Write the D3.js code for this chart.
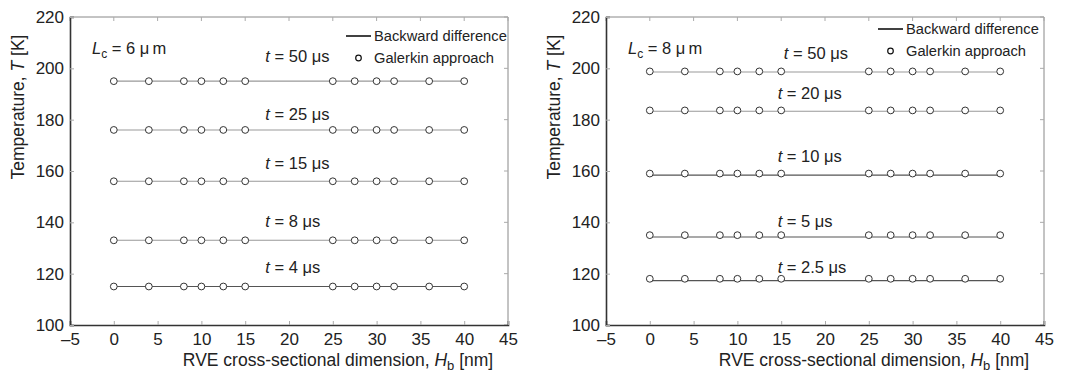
<!DOCTYPE html>
<html><head><meta charset="utf-8">
<script src="https://cdn.jsdelivr.net/npm/d3@7"></script>
<style>
body{margin:0;background:#fff;}
svg text{font-family:"Liberation Sans",Arial,Helvetica,sans-serif;fill:#222;}
</style></head>
<body><svg id="c" width="1075" height="373"></svg>
<script>
// ---- data ----
const hb = [0, 4, 8, 10, 12.5, 15, 25, 27.5, 30, 32, 36, 40];
const xTicks = [-5, 0, 5, 10, 15, 20, 25, 30, 35, 40, 45];
const yTicks = [100, 120, 140, 160, 180, 200, 220];

// Left panel: Lc = 6 um
const timesL = ["50", "25", "15", "8", "4"];
const galerkinL = [
  [195, 195, 195, 195, 195, 195, 195, 195, 195, 195, 195, 195],
  [176, 176, 176, 176, 176, 176, 176, 176, 176, 176, 176, 176],
  [156, 156, 156, 156, 156, 156, 156, 156, 156, 156, 156, 156],
  [133, 133, 133, 133, 133, 133, 133, 133, 133, 133, 133, 133],
  [115, 115, 115, 115, 115, 115, 115, 115, 115, 115, 115, 115]
];
const backwardL = [
  [195, 195, 195, 195, 195, 195, 195, 195, 195, 195, 195, 195],
  [176, 176, 176, 176, 176, 176, 176, 176, 176, 176, 176, 176],
  [156, 156, 156, 156, 156, 156, 156, 156, 156, 156, 156, 156],
  [133, 133, 133, 133, 133, 133, 133, 133, 133, 133, 133, 133],
  [115, 115, 115, 115, 115, 115, 115, 115, 115, 115, 115, 115]
];
const labelPosL = [[17.3, 202.5], [17.3, 180.0], [17.3, 160.8], [17.3, 138.2], [17.3, 120.3]];

// Right panel: Lc = 8 um
const timesR = ["50", "20", "10", "5", "2.5"];
const galerkinR = [
  [198.8, 198.8, 198.8, 198.8, 198.8, 198.8, 198.8, 198.8, 198.8, 198.8, 198.8, 198.8],
  [183.6, 183.6, 183.6, 183.6, 183.6, 183.6, 183.6, 183.6, 183.6, 183.6, 183.6, 183.6],
  [159.0, 159.0, 159.0, 159.0, 159.0, 159.0, 159.0, 159.0, 159.0, 159.0, 159.0, 159.0],
  [135.0, 135.0, 135.0, 135.0, 135.0, 135.0, 135.0, 135.0, 135.0, 135.0, 135.0, 135.0],
  [118.0, 118.0, 118.0, 118.0, 118.0, 118.0, 118.0, 118.0, 118.0, 118.0, 118.0, 118.0]
];
const backwardR = [
  [198.6, 198.6, 198.6, 198.6, 198.6, 198.6, 198.6, 198.6, 198.6, 198.6, 198.6, 198.6],
  [183.3, 183.3, 183.3, 183.3, 183.3, 183.3, 183.3, 183.3, 183.3, 183.3, 183.3, 183.3],
  [158.4, 158.4, 158.4, 158.4, 158.4, 158.4, 158.4, 158.4, 158.4, 158.4, 158.4, 158.4],
  [134.3, 134.3, 134.3, 134.3, 134.3, 134.3, 134.3, 134.3, 134.3, 134.3, 134.3, 134.3],
  [117.3, 117.3, 117.3, 117.3, 117.3, 117.3, 117.3, 117.3, 117.3, 117.3, 117.3, 117.3]
];
const labelPosR = [[15.3, 203.6], [14.6, 188.0], [14.6, 163.5], [14.6, 138.2], [14.6, 120.3]];

const panels = [
  {left: 70, lc: "6", times: timesL, gal: galerkinL, bwd: backwardL, lab: labelPosL,
   lineCol: ["#999", "#999", "#999", "#999", "#555"], legX: 346, legY: 36},
  {left: 606, lc: "8", times: timesR, gal: galerkinR, bwd: backwardR, lab: labelPosR,
   lineCol: ["#999", "#999", "#555", "#555", "#555"], legX: 878, legY: 29}
];

const svg = d3.select("#c");
const W = 438, yTop = 17, yBot = 325;

panels.forEach(p => {
  const x = d3.scaleLinear().domain([-5, 45]).range([p.left, p.left + W]);
  const y = d3.scaleLinear().domain([100, 220]).range([yBot, yTop]);
  const g = svg.append("g");

  // top / right frame (light)
  g.append("line").attr("x1", x(-5)).attr("x2", x(45)).attr("y1", yTop).attr("y2", yTop)
    .attr("stroke", "#888").attr("stroke-width", 1);
  g.append("line").attr("x1", x(45)).attr("x2", x(45)).attr("y1", yTop).attr("y2", yBot)
    .attr("stroke", "#888").attr("stroke-width", 1);
  // ticks on top & right
  g.selectAll(".tt").data(xTicks).enter().append("line")
    .attr("x1", d => x(d)).attr("x2", d => x(d)).attr("y1", yTop).attr("y2", yTop + 4)
    .attr("stroke", "#aaa");
  g.selectAll(".rt").data(yTicks).enter().append("line")
    .attr("x1", x(45)).attr("x2", x(45) - 4).attr("y1", d => y(d)).attr("y2", d => y(d))
    .attr("stroke", "#aaa");

  const xa = g.append("g").attr("transform", `translate(0,${yBot})`)
    .call(d3.axisBottom(x).tickValues(xTicks).tickSize(-4).tickPadding(8).tickFormat(d => d < 0 ? "\u2013" + (-d) : d));
  const ya = g.append("g").attr("transform", `translate(${p.left},0)`)
    .call(d3.axisLeft(y).tickValues(yTicks).tickSize(-4).tickPadding(6));
  [xa, ya].forEach(a => {
    a.select(".domain").attr("stroke", "#333").attr("stroke-width", 1.6);
    a.selectAll(".tick line").attr("stroke", "#aaa");
    a.selectAll(".tick text").attr("font-size", 17).attr("fill", "#222")
      .attr("font-family", "Liberation Sans, Arial, sans-serif");
  });

  // lines (backward difference)
  const line = d3.line().x((d, i) => x(hb[i])).y(d => y(d));
  p.bwd.forEach((s, k) => {
    g.append("path").attr("d", line(s)).attr("fill", "none")
      .attr("stroke", p.lineCol[k]).attr("stroke-width", 1.1);
  });
  // circles (Galerkin)
  p.gal.forEach(s => {
    g.selectAll(null).data(s).enter().append("circle")
      .attr("cx", (d, i) => x(hb[i])).attr("cy", d => y(d)).attr("r", 3.4)
      .attr("fill", "#fff").attr("stroke", "#333").attr("stroke-width", 1);
  });

  // time labels
  p.times.forEach((t, k) => {
    const tx = g.append("text").attr("x", x(p.lab[k][0])).attr("y", y(p.lab[k][1])).attr("font-size", 16.5);
    tx.append("tspan").attr("font-style", "italic").text("t");
    tx.append("tspan").text(" = " + t + " \u03bcs");
  });

  // Lc label
  const lt = g.append("text").attr("x", p.left + 22).attr("y", 54).attr("font-size", 16.5);
  lt.append("tspan").attr("font-style", "italic").text("L");
  lt.append("tspan").attr("font-size", 12).attr("dy", 4).text("c");
  lt.append("tspan").attr("dy", -4).text(" = " + p.lc + " \u03bc\u2009m");

  // legend
  g.append("line").attr("x1", p.legX).attr("x2", p.legX + 25).attr("y1", p.legY).attr("y2", p.legY)
    .attr("stroke", "#111").attr("stroke-width", 1.6);
  g.append("text").attr("x", p.legX + 28).attr("y", p.legY + 5).attr("font-size", 14.7).text("Backward difference");
  g.append("circle").attr("cx", p.legX + 12.5).attr("cy", p.legY + 22).attr("r", 2.8)
    .attr("fill", "#fff").attr("stroke", "#111").attr("stroke-width", 1.2);
  g.append("text").attr("x", p.legX + 28).attr("y", p.legY + 27).attr("font-size", 14.7).text("Galerkin approach");

  // axis titles
  const xl = g.append("text").attr("x", p.left + 268).attr("y", 366).attr("font-size", 17.5)
    .attr("text-anchor", "middle");
  xl.append("tspan").text("RVE cross-sectional dimension, ");
  xl.append("tspan").attr("font-style", "italic").text("H");
  xl.append("tspan").attr("font-size", 13).attr("dy", 4).text("b");
  xl.append("tspan").attr("dy", -4).text(" [nm]");

  const yl = g.append("text").attr("transform", `translate(${p.left - 46},${(yTop + yBot) / 2 - 64}) rotate(-90)`)
    .attr("font-size", 17.5).attr("text-anchor", "middle");
  yl.append("tspan").text("Temperature, ");
  yl.append("tspan").attr("font-style", "italic").text("T");
  yl.append("tspan").text(" [K]");
});
</script></body></html>
